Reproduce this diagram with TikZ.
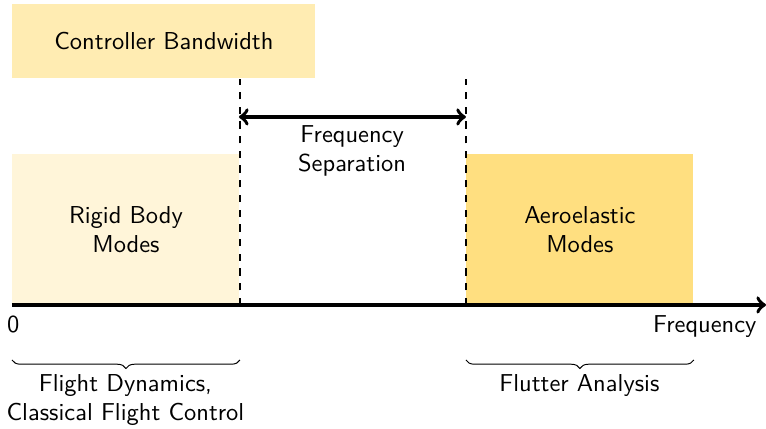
\documentclass[tikz,border=0pt]{standalone}
\usetikzlibrary{decorations.pathreplacing,positioning}
\definecolor{amber}{RGB}{255,191,0}
\begin{document}
\begin{tikzpicture}[
    font=\sffamily,
    band/.style={rectangle, minimum width=3.26cm, minimum height=2.155cm, inner sep=0pt, align=center, anchor=south west},
    sep/.style={dashed, semithick},
    axis/.style={->, line width=1.5pt},
    brc/.style={decorate, decoration={brace, mirror, amplitude=3.5pt}, thin}
]
\useasboundingbox (-0.172,-1.78) rectangle (10.83,4.38);

% Frequency bands
\node[band, fill=amber!15] (rigid) at (0, 0)    {Rigid Body\\Modes};
\node[band, fill=amber!50] (aero) at (6.52, 0)  {Aeroelastic\\Modes};
\node[band, fill=amber!30, minimum width=4.35cm, minimum height=1.06cm] (ctrl) at (0, 3.25) {Controller Bandwidth};

% Separators
\draw[sep] (rigid.south east) -- (rigid.south east |- ctrl.south);
\draw[sep] (aero.south west) -- (aero.south west |- ctrl.south);

% Separation
\coordinate (sepl) at (3.26, 2.70);
\coordinate (sepr) at (6.52, 2.70);
\draw[<->, line width=1.5pt] (sepl) -- (sepr);
\node[align=center] (septxt) at (4.885, 2.21) {Frequency\\Separation};

% Axis
\coordinate (origin) at (0, 0);
\coordinate (fend) at (10.83, 0);
\draw[axis] (origin) -- (fend);
\node[anchor=base, inner sep=0pt] (zero) at (0.02, -0.40) {0};
\node[anchor=base east, inner sep=0pt] (flab) at (10.70, -0.40) {Frequency};

% Braces
\draw[brc] ([yshift=-0.79cm]rigid.south west) -- ([yshift=-0.79cm]rigid.south east);
\draw[brc] ([yshift=-0.79cm]aero.south west) -- ([yshift=-0.79cm]aero.south east);
\node[align=center] (fdlab) at (1.63, -1.365) {Flight Dynamics,\\Classical Flight Control};
\node (falab) at (8.15, -1.16) {Flutter Analysis};

\end{tikzpicture}
\end{document}
